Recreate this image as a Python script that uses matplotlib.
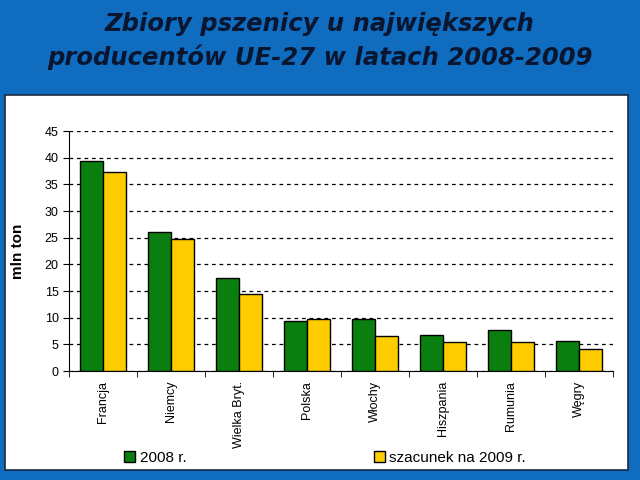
import matplotlib

matplotlib.use("Agg")
import matplotlib.pyplot as plt
import numpy as np
from matplotlib.patches import Rectangle

countries = ["Francja", "Niemcy", "Wielka Bryt.", "Polska", "Włochy", "Hiszpania", "Rumunia", "Węgry"]
harvest_2008 = [39.3, 26.0, 17.4, 9.4, 9.7, 6.8, 7.6, 5.7]
harvest_2009 = [37.4, 24.7, 14.5, 9.7, 6.5, 5.4, 5.4, 4.1]
series_labels = ["2008 r.", "szacunek na 2009 r."]
title = "Zbiory pszenicy u największych\nproducentów UE-27 w latach 2008-2009"

BLUE = "#0f6cbf"
GREEN = "#0a7f10"
YELLOW = "#ffcc00"

plt.rcParams["font.family"] = ["Liberation Sans", "DejaVu Sans"]

fig = plt.figure(figsize=(6.4, 4.8), dpi=100, facecolor=BLUE)
fig.patches.append(Rectangle((5 / 640, 10 / 480), 623 / 640, 375 / 480, transform=fig.transFigure,
                             facecolor="white", edgecolor="#1a2a40", linewidth=1.2, zorder=-5))
fig.text(0.5, 1 - 41 / 480, title, ha="center", va="center", fontsize=17.5, fontweight="bold",
         style="italic", color="#0a1530", family="DejaVu Sans", linespacing=1.45)

ax = fig.add_axes([69 / 640, 1 - 371 / 480, 544 / 640, 240 / 480])
ax.set_zorder(2)
x = np.arange(len(countries))
w = 0.34
ax.bar(x - w / 2, harvest_2008, w, color=GREEN, edgecolor="black", linewidth=1.0, label=series_labels[0], zorder=3)
ax.bar(x + w / 2, harvest_2009, w, color=YELLOW, edgecolor="black", linewidth=1.0, label=series_labels[1], zorder=3)

ax.set_xlim(-0.5, len(countries) - 0.5)
ax.set_ylim(0, 45)
ax.set_yticks(range(0, 46, 5))
ax.yaxis.grid(True, linestyle=(0, (3, 3)), color="black", linewidth=0.9, zorder=1)
ax.set_axisbelow(True)
ax.set_xticks(x)
ax.set_xticklabels(countries, rotation=90, fontsize=9)
ax.set_xticks(np.arange(-0.5, len(countries)), minor=True)
ax.tick_params(axis="x", which="major", length=0, pad=7)
ax.tick_params(axis="x", which="minor", length=4, direction="out")
ax.tick_params(axis="y", labelsize=9, length=4)
for side in ("top", "right"):
    ax.spines[side].set_visible(False)
ax.set_ylabel("mln ton", fontsize=11, fontweight="bold", labelpad=14)

fig.legend(loc="center", bbox_to_anchor=(0.508, 1 - 458 / 480), ncol=2, frameon=False,
           fontsize=11, handlelength=0.7, handleheight=0.7, columnspacing=12.3, handletextpad=0.3)

fig.savefig("out.png", dpi=100, facecolor=BLUE)
